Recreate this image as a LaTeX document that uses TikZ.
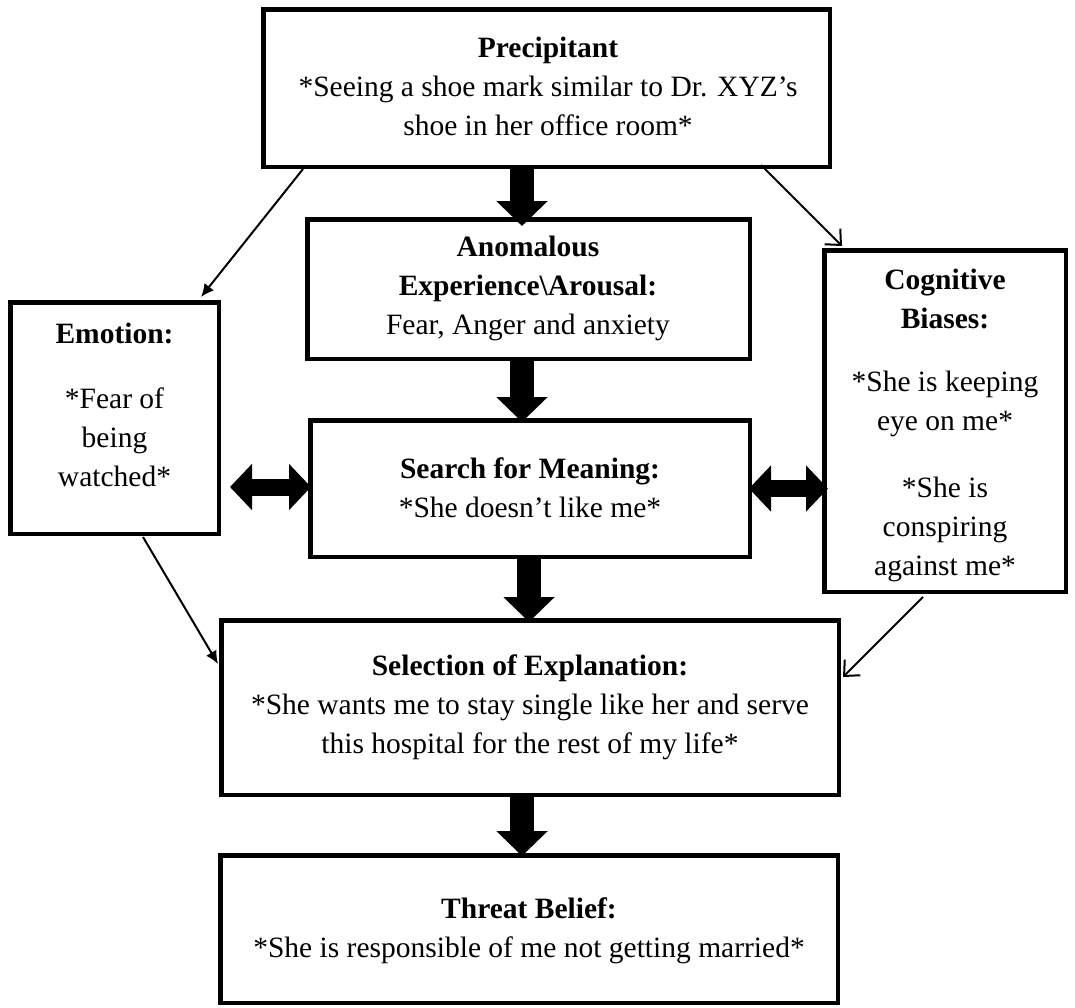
\documentclass[tikz,border=0pt]{standalone}
\usepackage{fontspec}
\setmainfont{Liberation Serif}
\usetikzlibrary{arrows.meta,calc}
\begin{document}
\begin{tikzpicture}[x=1pt,y=-1pt,
  box/.style={draw,line width=4.5pt,inner sep=0pt},
  txt/.style={align=center,inner sep=0pt,font=\fontsize{29.5}{39}\selectfont},
  bigarrow/.style={line width=24pt,-{Triangle[width=50pt,length=25pt]}},
  dblarrow/.style={line width=17pt,{Triangle[width=45pt,length=22pt]}-{Triangle[width=45pt,length=22pt]}},
  thinfill/.style={line width=2pt,-{Latex[length=13pt,width=12pt]}},
  thinopen/.style={line width=2pt,-{Straight Barb[length=12pt,width=22pt]}},
]
\useasboundingbox[fill=white] (0,0) rectangle (1075,1007);

% boxes
\node[box,minimum width=566.5pt,minimum height=157.5pt] (prec) at (546.5,88) {};
\node[box,minimum width=442.5pt,minimum height=139.5pt] (anom) at (528.5,289) {};
\node[box,minimum width=208.5pt,minimum height=231.5pt] (emo) at (114.5,418) {};
\node[box,minimum width=241.5pt,minimum height=341.5pt] (cog) at (945,421) {};
\node[box,minimum width=439.5pt,minimum height=136.5pt] (srch) at (530,488.5) {};
\node[box,minimum width=617.5pt,minimum height=174.5pt] (sel) at (530,707.5) {};
\node[box,minimum width=617.5pt,minimum height=147.5pt] (thr) at (529,929) {};

% texts
\node[txt] (tprec) at (548,86) {\textbf{Precipitant}\\{}*Seeing a shoe mark similar to Dr. XYZ’s\\shoe in her office room*};
\node[txt] (tanom) at (528,288) {\textbf{Anomalous}\\\textbf{Experience\textbackslash Arousal:}\\Fear, Anger and anxiety};
\node[txt] (temo) at (114.5,405) {\textbf{Emotion:}\\[26pt]{}*Fear of\\being\\watched*};
\node[txt] (tcog) at (945,425) {\textbf{Cognitive}\\\textbf{Biases:}\\[24pt]{}*She is keeping\\eye on me*\\[28pt]{}*She is\\conspiring\\against me*};
\node[txt] (tsrch) at (530,488) {\textbf{Search for Meaning:}\\{}*She doesn’t like me*};
\node[txt] (tsel) at (530,707) {\textbf{Selection of Explanation:}\\{}*She wants me to stay single like her and serve\\this hospital for the rest of my life*};
\node[txt] (tthr) at (529,931) {\textbf{Threat Belief:}\\{}*She is responsible of me not getting married*};

% thick arrows
\draw[bigarrow] ($(prec.south)+(-24.5,-2)$) -- ($(anom.north)+(-6.5,9)$);
\draw[bigarrow] ($(anom.south)+(-6.5,-2)$) -- ($(srch.north)+(-8,4)$);
\draw[bigarrow] ($(srch.south)+(-1,-2)$) -- ($(sel.north)+(-1,4)$);
\draw[bigarrow] ($(sel.south)+(-8,-2)$) -- ($(thr.north)+(-7,3)$);

% double arrows
\draw[dblarrow] ($(emo.east |- srch.west)+(9,-1.5)$) -- ($(srch.west)+(3,-1.5)$);
\draw[dblarrow] ($(srch.east)+(-3,0)$) -- ($(cog.west |- srch.east)+(6,0)$);

% thin arrows
\draw[thinfill] ($(prec.south west)+(42,0)$) -- ($(emo.north east)+(-20,-3)$);
\draw[thinopen] ($(prec.south east)+(-71,-4)$) -- ($(cog.north west)+(20,-2)$);
\draw[thinfill] ($(emo.south west)+(135,1)$) -- ($(sel.north west)+(-1,46)$);
\draw[thinopen] ($(cog.south west)+(101,3)$) -- ($(sel.north east)+(2,59)$);
\end{tikzpicture}
\end{document}
